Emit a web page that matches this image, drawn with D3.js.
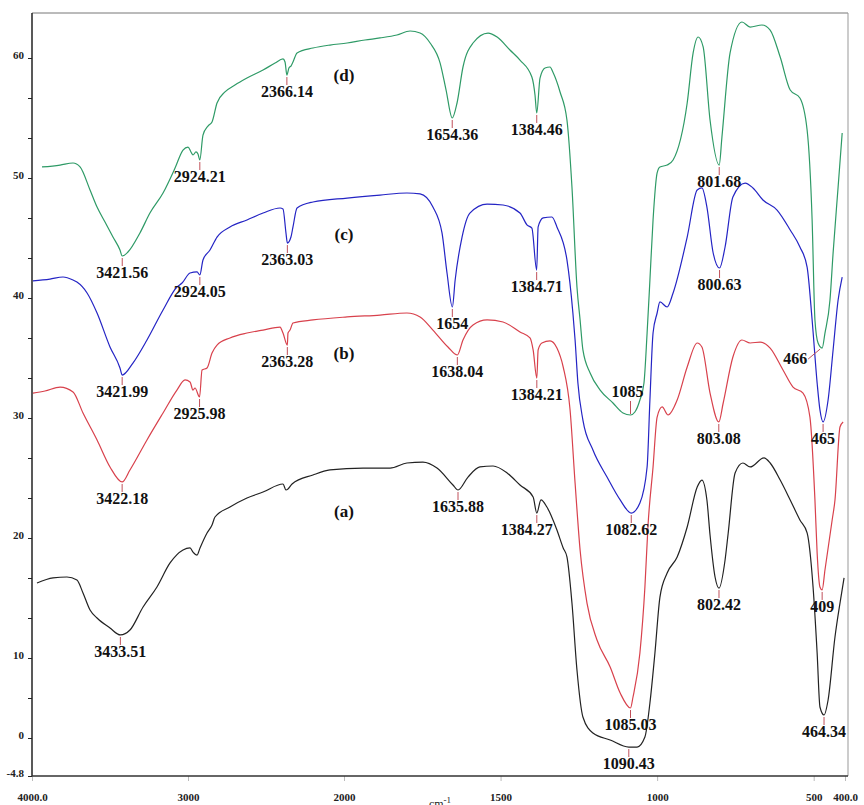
<!DOCTYPE html>
<html>
<head>
<meta charset="utf-8">
<script src="https://d3js.org/d3.v7.min.js"></script>
<style>
body { margin: 0; background: #fff; }
.axis text { font-family: "Liberation Serif", "Times New Roman", serif; font-weight: bold; font-size: 11px; fill: #222; }
.axis line { stroke: #222; }
.axis path { display: none; }
.xaxis line { stroke: #bbb; }
.peak text { font-family: "Liberation Serif", "Times New Roman", serif; font-weight: bold; font-size: 16px; fill: #111; }
.peak line { stroke: #c0505a; stroke-width: 1; }
.spectrum { fill: none; stroke-width: 1.2; }
.tag { font-family: "Liberation Serif", "Times New Roman", serif; font-weight: bold; font-size: 17px; fill: #111; text-anchor: middle; }
</style>
</head>
<body>
<svg width="864" height="805"></svg>
<script>

// spectra: [wavenumber cm-1, transmittance]
var seriesA = [
  [3968,16.25],[3865,16.67],[3776,16.75],[3712,16.5],[3673,15.42],[3628,14.0],[3583,13.33],[3500,12.5],[3433.51,11.92],[3372,12.33],[3288,14.25],[3199,15.92],[3115,17.92],[3032,19.0],[2987,19.17],[2968,18.83],[2942,18.58],[2923,19.17],[2878,20.42],[2846,21.08],[2827,21.75],[2731,22.58],[2622,23.33],[2519,23.83],[2391,24.5],[2372,24.0],[2359,24.08],[2333,24.5],[2199,25.25],[2090,25.67],[1939,25.83],[1853,25.83],[1799,26.25],[1748,26.33],[1703,25.83],[1652,24.42],[1635.88,24.0],[1604,25.08],[1566,25.92],[1524,26.0],[1479,25.42],[1438,24.42],[1396,23.42],[1384.27,22.08],[1371,23.17],[1352,22.58],[1320,20.67],[1300,19.17],[1288,18.42],[1272,14.58],[1256,8.5],[1237,2.625],[1205,0.625],[1150,-0.25],[1090.43,-1.14],[1064,-1.14],[1039,0.125],[1023,4.375],[1007,10.42],[991,15.08],[968,17.08],[936,18.42],[904,20.92],[872,24.25],[857,24.83],[841,23.17],[831,20.25],[815,16.75],[802.42,15.83],[783,18.17],[773,20.42],[751,25.42],[726,26.25],[703,25.92],[659,26.67],[639,26.25],[607,24.83],[575,23.17],[544,21.5],[521,20.42],[502,15.92],[489,10.42],[480,3.875],[467,2.875],[454,4.75],[432,11.75],[416,14.58],[403,16.67]
];
var seriesB = [
  [3994,32.08],[3917,32.25],[3820,32.58],[3737,32.17],[3673,30.42],[3583,28.17],[3500,25.92],[3422.18,24.67],[3372,25.67],[3263,28.17],[3160,30.42],[3071,32.33],[3019,33.17],[2987,33.0],[2968,32.33],[2955,32.5],[2925.98,31.75],[2910,34.0],[2878,34.17],[2846,35.42],[2814,36.08],[2731,36.67],[2622,37.08],[2519,37.33],[2410,37.58],[2391,37.08],[2363.28,36.08],[2359,37.08],[2346,37.33],[2327,37.92],[2199,38.17],[1990,38.42],[1885,38.58],[1799,38.75],[1757,38.42],[1716,37.33],[1668,35.92],[1638.04,35.25],[1620,36.5],[1588,37.75],[1543,38.17],[1492,38.0],[1438,37.17],[1406,36.67],[1396,35.67],[1384.21,33.33],[1380,35.67],[1368,36.25],[1342,36.42],[1320,35.83],[1300,34.25],[1278,30.67],[1262,24.58],[1246,19.0],[1224,14.58],[1192,11.5],[1150,8.875],[1118,5.625],[1085.03,3.75],[1077,5.125],[1055,10.42],[1039,15.92],[1029,21.08],[1013,25.92],[1000,30.08],[984,30.92],[965,30.25],[936,31.5],[904,34.25],[872,36.25],[857,35.92],[831,32.08],[803.08,29.67],[789,31.25],[758,35.08],[729,36.5],[703,36.25],[671,36.33],[639,35.83],[598,34.0],[566,32.58],[534,32.08],[512,30.08],[496,23.17],[489,18.75],[480,15.92],[473,15.67],[464,17.33],[441,21.5],[432,23.17],[416,29.25],[406,29.67]
];
var seriesC = [
  [3994,41.42],[3885,41.58],[3801,41.75],[3737,41.5],[3712,41.33],[3647,40.42],[3583,38.75],[3500,35.92],[3436,34.17],[3421.99,33.58],[3353,34.58],[3263,36.5],[3160,39.0],[3071,40.92],[3038,41.25],[2987,42.08],[2942,42.17],[2924.05,41.92],[2904,43.17],[2859,44.0],[2814,45.08],[2731,45.92],[2622,46.5],[2519,47.08],[2410,47.5],[2391,47.42],[2372,45.42],[2363.03,44.58],[2340,45.08],[2327,45.92],[2301,47.5],[2199,48.0],[1990,48.33],[1885,48.58],[1799,48.75],[1757,48.67],[1716,47.58],[1687,45.42],[1671,42.08],[1654,39.25],[1645,41.5],[1623,45.08],[1598,47.08],[1543,47.83],[1492,47.75],[1438,47.08],[1415,46.08],[1400,45.83],[1384.71,42.33],[1380,45.92],[1364,46.67],[1336,46.75],[1320,45.92],[1288,43.17],[1269,38.75],[1262,36.5],[1253,32.92],[1237,29.83],[1205,27.33],[1160,25.08],[1118,23.17],[1082.62,22.08],[1055,22.92],[1032,25.92],[1023,31.5],[1013,37.08],[1000,38.75],[991,39.67],[968,39.25],[949,40.42],[904,45.08],[872,49.0],[857,49.17],[841,47.58],[821,43.75],[800.63,42.5],[783,44.25],[758,48.42],[719,49.58],[694,49.17],[662,48.17],[617,47.33],[575,45.67],[544,44.25],[521,42.58],[505,38.17],[489,32.92],[480,30.67],[470,29.67],[454,31.5],[438,35.67],[422,39.83],[409,41.75]
];
var seriesD = [
  [3936,50.92],[3820,51.08],[3737,51.25],[3692,50.92],[3628,49.0],[3583,47.58],[3532,46.33],[3481,45.08],[3436,44.0],[3421.56,43.5],[3385,43.83],[3308,45.42],[3244,47.08],[3160,48.75],[3083,50.83],[3032,52.33],[3000,52.58],[2981,52.17],[2968,51.92],[2949,52.17],[2936,52.0],[2924.21,51.5],[2904,53.58],[2872,54.33],[2846,54.67],[2814,56.25],[2763,57.17],[2699,57.75],[2622,58.33],[2519,59.0],[2442,59.58],[2391,59.92],[2378,59.67],[2366.14,58.58],[2353,59.17],[2340,59.33],[2327,59.67],[2301,60.42],[2199,60.83],[2090,61.08],[1990,61.25],[1933,61.5],[1885,61.67],[1831,61.92],[1789,62.25],[1757,62.08],[1725,61.25],[1693,59.58],[1674,57.33],[1654.36,55.0],[1639,56.25],[1620,59.25],[1588,61.25],[1540,62.08],[1511,61.75],[1470,60.67],[1438,59.83],[1400,58.42],[1390,56.92],[1384.46,55.42],[1374,58.33],[1358,59.17],[1342,59.25],[1333,58.83],[1310,57.17],[1288,54.83],[1272,49.25],[1256,40.92],[1246,38.17],[1237,35.67],[1214,33.75],[1182,32.33],[1141,31.25],[1109,30.42],[1085,30.25],[1071,30.5],[1055,31.5],[1042,32.92],[1032,37.08],[1023,41.5],[1013,46.5],[1000,50.42],[991,50.92],[968,51.08],[949,51.5],[904,56.25],[885,60.42],[869,61.75],[853,60.92],[831,54.83],[801.68,51.08],[793,53.42],[767,60.42],[729,63.0],[703,62.58],[665,62.75],[639,62.33],[607,60.08],[575,57.33],[544,56.67],[521,54.0],[505,46.5],[496,38.17],[486,36.25],[473,35.83],[464,37.08],[448,39.83],[438,43.75],[422,49.25],[409,53.75]
];

// peak annotations: [wavenumber of the marked point, label]
var peaksA = [[3433.51,"3433.51"],[1635.88,"1635.88"],[1384.27,"1384.27"],[1090.43,"1090.43"],[802.42,"802.42"],[467,"464.34"]];
var peaksB = [[3422.18,"3422.18"],[2925.98,"2925.98"],[2363.28,"2363.28"],[1638.04,"1638.04"],[1384.21,"1384.21"],[1085.03,"1085.03"],[803.08,"803.08"],[473,"409"]];
var peaksC = [[3421.99,"3421.99"],[2924.05,"2924.05"],[2363.03,"2363.03"],[1654,"1654"],[1384.71,"1384.71"],[1082.62,"1082.62"],[800.63,"800.63"],[470,"465"]];
var peaksD = [[3421.56,"3421.56"],[2924.21,"2924.21"],[2366.14,"2366.14"],[1654.36,"1654.36"],[1384.46,"1384.46"],[1085,"1085"],[801.68,"801.68"],[473,"466"]];

var seriesNames = ["(a)", "(b)", "(c)", "(d)"];
var seriesColors = ["#222222", "#d8414c", "#2424c4", "#2e9a66"];
var seriesTagAt = [[2000,21.75],[2000,34.92],[2000,44.83],[2000,58.1]];

var xTicks = [4000, 3000, 2000, 1500, 1000, 500, 400];
var xTickLabels = ["4000.0", "3000", "2000", "1500", "1000", "500", "400.0"];
var yTicks = [60, 50, 40, 30, 20, 10, 0, -4.8];

var svg = d3.select("svg");

var plotLeft = 32, plotRight = 848, plotTop = 13, plotBottom = 776;

// the instrument plot changes scale at 2000 cm-1 and below 10 on the y axis
var x = d3.scaleLinear()
    .domain([4000, 2000, 400])
    .range([plotLeft, 344, 845]);

var y = d3.scaleLinear()
    .domain([-4.8, 0, 10, 63.75])
    .range([plotBottom, 738, 658, plotTop]);

// frame
svg.append("line").attr("x1", plotLeft).attr("x2", plotRight).attr("y1", plotTop).attr("y2", plotTop)
    .attr("stroke", "#777").attr("stroke-width", 1);
svg.append("line").attr("x1", plotRight).attr("x2", plotRight).attr("y1", plotTop).attr("y2", plotBottom)
    .attr("stroke", "#999").attr("stroke-width", 1);

// minor ticks on y
var minor = d3.range(10, 60, 10 / 3).concat([5]);
svg.append("g").attr("class", "axis")
    .attr("transform", "translate(" + plotLeft + ",0)")
    .call(d3.axisLeft(y).tickValues(minor).tickSize(4).tickFormat(""));

svg.append("g").attr("class", "axis")
    .attr("transform", "translate(" + plotLeft + ",0)")
    .call(d3.axisLeft(y).tickValues(yTicks).tickSize(4).tickPadding(4)
      .tickFormat(function(d) { return String(d); }))
    .selectAll("text").attr("dy", "0.05em");

svg.append("g").attr("class", "axis xaxis")
    .attr("transform", "translate(0," + plotBottom + ")")
    .call(d3.axisBottom(x).tickValues(xTicks).tickSize(5).tickPadding(12)
      .tickFormat(function(d, i) { return xTickLabels[i]; }));

// axis lines
svg.append("line").attr("x1", plotLeft).attr("x2", plotLeft).attr("y1", plotTop).attr("y2", plotBottom)
    .attr("stroke", "#222").attr("stroke-width", 1.5);
svg.append("line").attr("x1", plotLeft).attr("x2", plotRight).attr("y1", plotBottom).attr("y2", plotBottom)
    .attr("stroke", "#333").attr("stroke-width", 1.5);

var xlab = svg.append("text")
    .attr("x", 440).attr("y", 808)
    .attr("text-anchor", "middle")
    .style("font-family", "Liberation Serif, serif").style("font-size", "12px").style("fill", "#222")
    .text("cm");
xlab.append("tspan").attr("dy", -5).style("font-size", "9px").text("-1");

var line = d3.line()
    .x(function(d) { return x(d[0]); })
    .y(function(d) { return y(d[1]); })
    .curve(d3.curveMonotoneX);

var allSeries = [seriesA, seriesB, seriesC, seriesD];
var allPeaks = [peaksA, peaksB, peaksC, peaksD];

allSeries.forEach(function(s, i) {
  svg.append("path")
      .datum(s)
      .attr("class", "spectrum")
      .attr("stroke", seriesColors[i])
      .attr("d", line);
});

// special label placements
var labelPlace = { "1085": "above", "466": "left", "1384.27": "shiftLeft" };

allPeaks.forEach(function(peaks, i) {
  var data = allSeries[i];
  peaks.forEach(function(p) {
    var pt = data.reduce(function(a, b) {
      return Math.abs(b[0] - p[0]) < Math.abs(a[0] - p[0]) ? b : a;
    });
    var px = x(pt[0]), py = y(pt[1]);
    var g = svg.append("g").attr("class", "peak");
    var mode = labelPlace[p[1]];
    if (mode === "above") {
      g.append("line").attr("x1", px).attr("x2", px).attr("y1", py - 1).attr("y2", py - 14);
      g.append("text").attr("x", px - 3).attr("y", py - 18).attr("text-anchor", "middle").text(p[1]);
    } else if (mode === "left") {
      g.append("line").attr("x1", px - 2).attr("y1", py + 1).attr("x2", px - 14).attr("y2", py + 11);
      g.append("text").attr("x", px - 15).attr("y", py + 16).attr("text-anchor", "end").text(p[1]);
    } else {
      g.append("line").attr("x1", px).attr("x2", px).attr("y1", py + 2).attr("y2", py + 10);
      g.append("text")
          .attr("x", px + (mode === "shiftLeft" ? -10 : 0))
          .attr("y", py + 22)
          .attr("text-anchor", "middle")
          .text(p[1]);
    }
  });
});

seriesNames.forEach(function(n, i) {
  svg.append("text")
      .attr("class", "tag")
      .attr("x", x(seriesTagAt[i][0]))
      .attr("y", y(seriesTagAt[i][1]))
      .text(n);
});

</script>
</body>
</html>
